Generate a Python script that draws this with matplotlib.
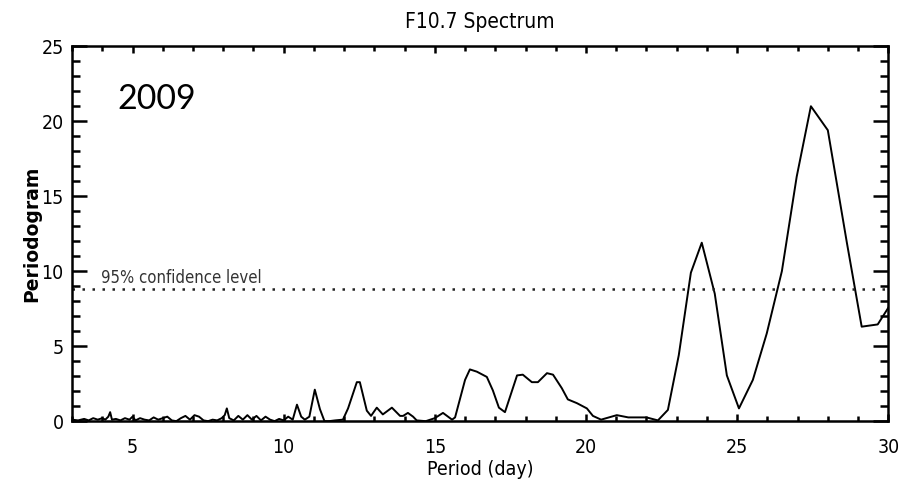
import matplotlib
matplotlib.use("Agg")
import matplotlib.pyplot as plt
from matplotlib.ticker import MultipleLocator

# valores
periodo = [3.0, 3.2, 3.4, 3.55, 3.7, 3.85, 4.0, 4.1, 4.2, 4.26, 4.32, 4.45, 4.6,
           4.75, 4.9, 5.0, 5.1, 5.25, 5.4, 5.55, 5.7, 5.85, 6.0, 6.15, 6.3, 6.45,
           6.6, 6.75, 6.9, 7.05, 7.2, 7.35, 7.5, 7.65, 7.8, 7.95, 8.05, 8.12, 8.2,
           8.35, 8.5, 8.65, 8.8, 8.95, 9.1, 9.25, 9.4, 9.55, 9.7, 9.85, 10.0,
           10.15, 10.3, 10.44, 10.58, 10.7, 10.85, 11.03, 11.2, 11.35, 11.5,
           11.7, 11.96, 12.13, 12.42, 12.52, 12.75, 12.89, 13.08, 13.28, 13.58,
           13.85, 13.95, 14.11, 14.28, 14.4, 14.7, 15.0, 15.27, 15.57, 15.67,
           16.0, 16.16, 16.39, 16.72, 16.92, 17.12, 17.32, 17.72, 17.91, 18.21,
           18.41, 18.71, 18.91, 19.2, 19.4, 19.7, 20.03, 20.23, 20.5, 21.02,
           21.4, 22.0, 22.38, 22.71, 23.07, 23.47, 23.83, 24.26, 24.66, 25.06,
           25.52, 25.98, 26.48, 26.97, 27.44, 28.0, 28.63, 29.12, 29.65, 29.95,
           30.1]
potencia = [0.1, 0.05, 0.15, 0.05, 0.2, 0.1, 0.2, 0.1, 0.3, 0.6, 0.1, 0.15,
            0.05, 0.2, 0.1, 0.3, 0.05, 0.2, 0.1, 0.05, 0.25, 0.1, 0.2, 0.3,
            0.05, 0.0, 0.2, 0.35, 0.1, 0.4, 0.3, 0.05, 0.0, 0.1, 0.05, 0.2,
            0.4, 0.85, 0.2, 0.05, 0.35, 0.1, 0.4, 0.1, 0.35, 0.05, 0.3, 0.1,
            0.0, 0.15, 0.05, 0.3, 0.1, 1.1, 0.3, 0.1, 0.3, 2.1, 0.8, 0.0, 0.0,
            0.05, 0.1, 0.85, 2.6, 2.6, 0.7, 0.35, 0.9, 0.45, 0.9, 0.35, 0.35,
            0.55, 0.3, 0.05, 0.0, 0.2, 0.55, 0.1, 0.25, 2.75, 3.45, 3.3, 2.95,
            2.05, 0.9, 0.6, 3.05, 3.1, 2.6, 2.6, 3.2, 3.1, 2.2, 1.45, 1.2,
            0.85, 0.35, 0.1, 0.4, 0.25, 0.25, 0.05, 0.75, 4.4, 9.9, 11.9, 8.5,
            3.05, 0.85, 2.75, 5.85, 10.0, 16.3, 21.0, 19.4, 11.9, 6.3, 6.45,
            7.4, 7.9]
nivel_confianza = 8.8

fig = plt.figure(figsize=(9.12, 4.92), dpi=100)
ax = fig.add_axes([0.079, 0.144, 0.895, 0.762])

ax.plot(periodo, potencia, color="black", lw=1.4)
ax.axhline(nivel_confianza, color="#222222", lw=1.8, linestyle=(0, (1, 3)))

ax.set_xlim(3, 30)
ax.set_ylim(0, 25)
ax.xaxis.set_major_locator(MultipleLocator(5))
ax.xaxis.set_minor_locator(MultipleLocator(1))
ax.yaxis.set_major_locator(MultipleLocator(5))
ax.yaxis.set_minor_locator(MultipleLocator(1))

# fuente estrecha parecida a la de IDL
estrecha = dict(family="DejaVu Sans", stretch="condensed")
ax.tick_params(axis="both", which="both", direction="in", top=True, right=True,
               width=1.8)
ax.tick_params(axis="y", which="major", length=11, pad=6)
ax.tick_params(axis="y", which="minor", length=6)
ax.tick_params(axis="x", which="major", length=5, pad=12)
ax.tick_params(axis="x", which="minor", length=3.5)
for lbl in ax.get_xticklabels() + ax.get_yticklabels():
    lbl.set_fontstretch("condensed")
    lbl.set_fontsize(14)
for s in ax.spines.values():
    s.set_linewidth(1.8)

ax.set_title("F10.7 Spectrum", fontsize=15, pad=13, **estrecha)
ax.set_xlabel("Period (day)", fontsize=14, labelpad=2, **estrecha)
ax.set_ylabel("Periodogram", family="DejaVu Sans", fontsize=13.5,
              fontweight="bold", labelpad=0.5)

ax.text(3.95, nivel_confianza + 0.15, "95% confidence level", fontsize=12,
        color="#333333", va="bottom", **estrecha)
ax.text(0.056, 0.86, "2009", transform=ax.transAxes, family="Lato",
        fontsize=24.5, va="center")

fig.savefig("out.png", dpi=100)
